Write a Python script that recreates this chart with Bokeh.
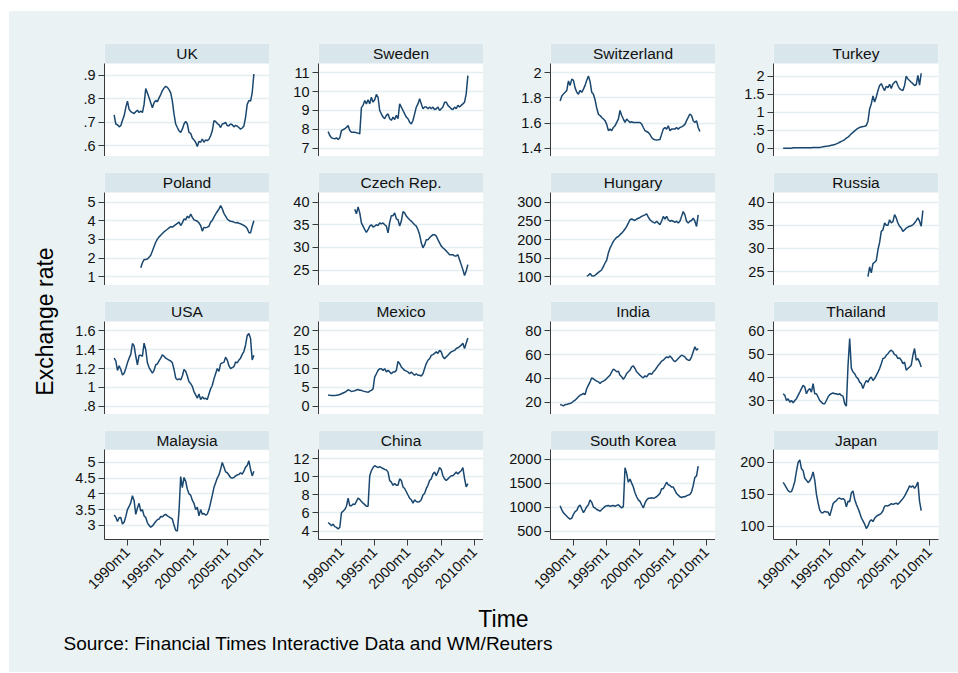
import math
from bokeh.plotting import figure
from bokeh.models import Range1d, FixedTicker, Label, Spacer
from bokeh.layouts import row, column
from bokeh.embed import file_html
from bokeh.resources import INLINE
from bokeh.core.properties import value

# ---------------- data (quarterly readings, start year per series) ----------------
countries = ["UK", "Sweden", "Switzerland", "Turkey",
             "Poland", "Czech Rep.", "Hungary", "Russia",
             "USA", "Mexico", "India", "Thailand",
             "Malaysia", "China", "South Korea", "Japan"]

start_year = [1988.0, 1988.0, 1988.0, 1988.0,
              1992.0, 1992.0, 1992.0, 2000.75,
              1988.0, 1988.0, 1988.0, 1988.0,
              1988.0, 1988.0, 1988.0, 1988.0]
step = 0.25

uk = [.731, .692, .689, .680, .685, .708, .727, .762, .790, .755,
      .745, .741, .737, .745, .751, .741, .748, .741, .776, .844,
      .825, .804, .783, .762, .783, .793, .787, .804, .818, .835,
      .846, .853, .849, .839, .825, .790, .734, .692, .677, .663,
      .656, .670, .692, .703, .692, .656, .652, .632, .624, .614,
      .596, .618, .614, .628, .614, .624, .621, .627, .642, .663,
      .706, .703, .694, .689, .677, .692, .694, .699, .685, .685,
      .692, .689, .680, .686, .683, .677, .670, .675, .683, .720,
      .776, .793, .790, .825, .906]
sweden = [7.88, 7.67, 7.55, 7.52, 7.50, 7.55, 7.46, 7.55, 7.94, 7.98,
          8.03, 8.10, 8.20, 7.94, 7.85, 7.85, 7.85, 7.82, 7.80, 7.76,
          9.15, 9.27, 9.53, 9.35, 9.57, 9.35, 9.70, 9.44, 9.57, 9.85,
          9.70, 9.00, 8.82, 8.65, 8.56, 8.74, 8.82, 8.56, 8.48, 8.65,
          8.52, 8.74, 8.56, 9.35, 9.18, 9.00, 8.82, 8.65, 8.56, 8.38,
          8.29, 8.47, 8.82, 9.18, 9.35, 9.62, 9.35, 9.09, 9.18, 9.18,
          9.09, 9.18, 9.09, 9.18, 9.04, 9.09, 9.18, 9.00, 9.09, 9.18,
          9.44, 9.44, 9.27, 9.18, 9.09, 9.04, 9.18, 9.09, 9.27, 9.18,
          9.27, 9.35, 9.44, 9.88, 10.85]
switzerland = [1.775, 1.815, 1.832, 1.845, 1.86, 1.935, 1.90, 1.95, 1.94, 1.88,
               1.845, 1.83, 1.86, 1.845, 1.87, 1.90, 1.94, 1.975, 1.93, 1.845,
               1.83, 1.785, 1.72, 1.67, 1.66, 1.645, 1.632, 1.619, 1.59, 1.54,
               1.552, 1.54, 1.565, 1.578, 1.605, 1.632, 1.70, 1.66, 1.632, 1.605,
               1.632, 1.619, 1.605, 1.61, 1.605, 1.605, 1.605, 1.605, 1.605, 1.592,
               1.565, 1.539, 1.533, 1.525, 1.51, 1.485, 1.472, 1.467, 1.465, 1.467,
               1.47, 1.51, 1.552, 1.565, 1.552, 1.578, 1.539, 1.552, 1.552, 1.552,
               1.565, 1.552, 1.565, 1.57, 1.578, 1.59, 1.619, 1.645, 1.672, 1.66,
               1.619, 1.605, 1.619, 1.565, 1.533]
turkey = [0.0, 0.0, 0.0, 0.0, 0.0, 0.0, 0.01, 0.01, 0.01, 0.01,
          0.01, 0.01, 0.01, 0.01, 0.01, 0.01, 0.01, 0.01, 0.02, 0.02,
          0.02, 0.02, 0.02, 0.03, 0.04, 0.05, 0.055, 0.06, 0.07, 0.08,
          0.09, 0.10, 0.12, 0.14, 0.165, 0.19, 0.21, 0.24, 0.28, 0.31,
          0.35, 0.40, 0.44, 0.48, 0.52, 0.55, 0.58, 0.59, 0.60, 0.61,
          0.63, 0.75, 1.09, 1.23, 1.45, 1.28, 1.42, 1.60, 1.74, 1.79,
          1.69, 1.60, 1.72, 1.68, 1.77, 1.66, 1.78, 1.83, 1.86, 1.74,
          1.65, 1.62, 1.60, 1.74, 2.00, 1.92, 1.88, 1.83, 1.79, 1.74,
          1.76, 2.02, 1.75, 2.08]
poland = [1.48, 1.75, 1.92, 1.93, 1.95, 2.05, 2.15, 2.38, 2.62, 2.85,
          3.02, 3.14, 3.23, 3.32, 3.41, 3.48, 3.55, 3.62, 3.69, 3.66,
          3.73, 3.80, 3.86, 3.93, 3.75, 3.89, 4.10, 4.05, 4.25, 4.15,
          4.36, 4.20, 4.05, 4.02, 3.98, 3.89, 3.75, 3.45, 3.65, 3.62,
          3.66, 3.71, 3.93, 4.02, 4.20, 4.36, 4.50, 4.62, 4.82, 4.65,
          4.40, 4.25, 4.10, 4.02, 3.98, 3.96, 3.93, 3.89, 3.91, 3.87,
          3.84, 3.80, 3.75, 3.69, 3.59, 3.37, 3.35, 3.71, 4.00]
czech = [38.4, 37.4, 38.9, 37.6, 35.4, 34.7, 33.9, 33.3, 33.9, 34.7,
         35.0, 34.5, 34.7, 35.0, 34.8, 35.4, 35.2, 35.4, 35.0, 34.7,
         33.2, 35.5, 37.0, 37.0, 37.6, 36.3, 36.1, 34.7, 35.8, 37.9,
         37.6, 36.9, 36.5, 36.1, 35.8, 35.4, 35.0, 34.7, 33.9, 32.8,
         31.0, 29.9, 30.6, 31.7, 31.7, 32.1, 32.5, 32.8, 32.8, 32.5,
         31.7, 31.0, 30.3, 29.9, 29.6, 29.2, 28.8, 28.4, 28.4, 28.4,
         28.1, 28.1, 28.4, 27.3, 26.2, 25.1, 23.8, 24.8, 26.2]
hungary = [102, 104, 109, 103, 102, 104, 108, 112, 115, 119,
           127, 137, 145, 164, 177, 186, 195, 201, 206, 208,
           213, 217, 222, 228, 235, 244, 253, 255, 253, 251,
           255, 257, 259, 262, 264, 266, 269, 260, 253, 249,
           246, 244, 249, 244, 240, 249, 262, 255, 262, 253,
           249, 251, 249, 246, 249, 244, 249, 262, 275, 266,
           249, 244, 249, 251, 257, 249, 235, 266]
russia = [23.9, 26.0, 24.7, 26.7, 27.0, 27.4, 29.7, 31.3, 33.7, 34.0,
          35.5, 35.0, 35.0, 36.2, 35.5, 35.8, 37.3, 36.6, 35.5, 34.8,
          34.4, 33.7, 34.0, 34.4, 34.6, 34.8, 34.9, 35.1, 35.5, 36.0,
          36.6, 35.9, 34.8, 38.2]
usa = [1.31, 1.28, 1.18, 1.23, 1.19, 1.13, 1.15, 1.20, 1.26, 1.31,
       1.35, 1.465, 1.44, 1.33, 1.24, 1.34, 1.34, 1.33, 1.47, 1.40,
       1.26, 1.21, 1.18, 1.15, 1.18, 1.24, 1.25, 1.28, 1.31, 1.345,
       1.33, 1.31, 1.30, 1.29, 1.28, 1.26, 1.19, 1.10, 1.08, 1.09,
       1.08, 1.12, 1.19, 1.17, 1.12, 1.06, 1.04, 1.01, 0.955, 0.92,
       0.885, 0.93, 0.87, 0.90, 0.88, 0.885, 0.87, 0.93, 0.985, 1.02,
       1.09, 1.145, 1.20, 1.17, 1.25, 1.26, 1.265, 1.32, 1.29, 1.23,
       1.20, 1.21, 1.22, 1.27, 1.26, 1.29, 1.31, 1.35, 1.38, 1.45,
       1.55, 1.572, 1.52, 1.29, 1.34]
mexico = [3.0, 2.9, 2.84, 2.84, 2.84, 2.9, 3.0, 3.1, 3.3, 3.5,
          3.7, 4.0, 4.35, 4.2, 3.9, 4.0, 4.1, 4.3, 4.44, 4.2,
          4.2, 4.0, 3.9, 3.8, 3.7, 4.0, 4.2, 4.6, 7.8, 8.6,
          9.5, 9.96, 9.96, 9.5, 9.96, 9.1, 9.5, 9.1, 8.6, 9.1,
          9.1, 9.5, 11.9, 11.3, 10.4, 9.96, 9.5, 9.3, 9.1, 8.6,
          9.1, 8.6, 8.2, 8.6, 8.2, 8.2, 8.0, 8.6, 10.0, 11.3,
          12.2, 12.6, 13.5, 13.7, 14.0, 14.4, 14.0, 14.8, 14.4, 13.1,
          12.6, 13.1, 13.5, 14.0, 14.4, 14.6, 14.8, 15.3, 15.5, 15.8,
          16.2, 16.7, 15.3, 16.7, 18.1]
india = [18.0, 17.5, 16.9, 18.0, 18.0, 18.6, 18.8, 19.7, 20.8, 21.7,
         23.1, 24.5, 25.9, 26.4, 27.3, 26.4, 31.5, 34.3, 37.1, 40.5,
         39.5, 38.5, 37.7, 37.1, 35.7, 37.1, 37.7, 38.5, 39.9, 41.3,
         42.7, 45.5, 47.8, 46.9, 45.5, 46.1, 42.7, 41.3, 39.3, 41.3,
         44.1, 45.5, 46.9, 49.7, 50.6, 48.3, 45.5, 44.1, 42.7, 41.3,
         40.5, 42.2, 41.3, 43.3, 44.1, 43.3, 45.5, 46.9, 48.9, 51.1,
         52.5, 54.5, 55.3, 56.7, 58.1, 57.3, 58.9, 57.3, 55.3, 53.9,
         55.3, 56.7, 58.1, 59.5, 58.9, 58.1, 56.1, 55.3, 55.3, 58.1,
         62.3, 66.5, 63.7, 65.1]
thailand = [33.0, 32.3, 30.1, 30.8, 29.4, 30.1, 29.1, 30.1, 30.9, 32.3,
            33.7, 35.2, 36.6, 35.9, 33.0, 34.5, 35.2, 33.7, 37.3, 33.0,
            33.0, 31.6, 30.1, 29.4, 28.7, 28.7, 30.1, 31.6, 32.6, 33.0,
            33.4, 33.0, 33.0, 32.6, 33.0, 32.3, 32.0, 28.7, 27.7, 45.0,
            56.7, 44.0, 42.3, 41.6, 40.2, 39.5, 38.0, 37.3, 35.2, 37.3,
            38.7, 38.0, 39.5, 40.2, 38.7, 39.5, 40.9, 42.3, 43.8, 45.9,
            48.1, 48.4, 49.5, 50.2, 51.2, 51.7, 51.0, 49.8, 49.5, 48.1,
            48.4, 47.4, 45.9, 46.6, 43.1, 43.8, 44.5, 45.2, 49.5, 52.4,
            47.4, 48.1, 46.6, 44.5]
malaysia = [3.33, 3.26, 3.12, 3.24, 3.25, 3.04, 3.10, 3.28, 3.50, 3.60,
            3.72, 3.94, 3.78, 3.35, 3.55, 3.70, 3.45, 3.50, 3.30, 3.25,
            3.08, 3.00, 2.94, 2.98, 3.05, 3.12, 3.18, 3.20, 3.28, 3.27,
            3.32, 3.35, 3.30, 3.27, 3.24, 3.20, 3.00, 2.84, 2.82, 3.45,
            4.55, 4.20, 4.52, 4.40, 4.15, 4.00, 3.96, 3.80, 3.70, 3.50,
            3.58, 3.30, 3.50, 3.35, 3.38, 3.32, 3.36, 3.50, 3.72, 3.95,
            4.20, 4.35, 4.50, 4.60, 4.78, 5.00, 4.85, 4.70, 4.67, 4.60,
            4.52, 4.50, 4.52, 4.57, 4.60, 4.62, 4.67, 4.63, 4.72, 4.85,
            4.90, 5.05, 4.78, 4.57, 4.72]
china = [4.96, 4.78, 4.60, 4.78, 4.50, 4.42, 4.25, 4.40, 6.03, 6.20,
         6.38, 6.74, 7.63, 6.80, 6.80, 7.00, 6.92, 7.27, 7.63, 7.50,
         7.27, 7.09, 6.92, 6.74, 6.74, 10.1, 10.65, 11.0, 11.2, 11.1,
         11.0, 11.1, 11.0, 10.9, 10.8, 10.75, 10.5, 9.58, 9.4, 9.05,
         9.23, 9.05, 9.05, 9.76, 9.58, 8.87, 8.70, 8.34, 7.98, 7.63,
         7.45, 7.09, 7.45, 7.27, 7.20, 7.27, 7.45, 7.98, 8.16, 8.70,
         9.05, 9.58, 9.76, 10.3, 10.5, 10.1, 10.5, 11.0, 10.8, 10.1,
         9.76, 9.58, 9.76, 9.94, 10.1, 10.1, 10.3, 10.5, 10.3, 10.5,
         10.65, 11.0, 9.8, 8.87, 9.23]
south_korea = [1030, 940, 880, 845, 810, 775, 748, 770, 848, 905,
               930, 1010, 1045, 960, 885, 945, 1010, 1049, 1150, 1100,
               1000, 982, 949, 935, 915, 949, 982, 1016, 1030, 1036,
               1016, 1030, 1036, 1016, 1036, 1049, 1016, 982, 1016, 1819,
               1700, 1518, 1585, 1500, 1420, 1300, 1216, 1150, 1120, 1049,
               982, 1083, 1150, 1183, 1183, 1196, 1183, 1196, 1216, 1250,
               1283, 1384, 1384, 1451, 1518, 1465, 1451, 1417, 1417, 1350,
               1283, 1250, 1216, 1196, 1216, 1216, 1236, 1250, 1263, 1317,
               1451, 1618, 1652, 1853]
japan = [168.5, 164.5, 160, 155.5, 153.5, 154, 161, 170, 186, 200,
         204, 190, 187, 175, 172, 168, 171, 176, 185, 172,
         150, 136.5, 125, 121, 121, 123, 122, 122, 116, 125,
         135, 138, 140, 143, 144, 142, 143, 141, 130, 139,
         138, 152, 155, 142, 134, 128, 121, 113, 108, 103,
         96, 100, 107, 110, 107, 112, 115, 117, 118, 120,
         124, 131, 132, 131.5, 133, 135, 134, 135, 136, 134,
         137, 140, 143, 147, 152, 157, 163, 161, 163, 159,
         163, 169, 139, 124]

series = [uk, sweden, switzerland, turkey,
          poland, czech, hungary, russia,
          usa, mexico, india, thailand,
          malaysia, china, south_korea, japan]

y_ticks = [[.6, .7, .8, .9], [7, 8, 9, 10, 11], [1.4, 1.6, 1.8, 2], [0, .5, 1, 1.5, 2],
           [1, 2, 3, 4, 5], [25, 30, 35, 40], [100, 150, 200, 250, 300], [25, 30, 35, 40],
           [.8, 1, 1.2, 1.4, 1.6], [0, 5, 10, 15, 20], [20, 40, 60, 80], [30, 40, 50, 60],
           [3, 3.5, 4, 4.5, 5], [4, 6, 8, 10, 12], [500, 1000, 1500, 2000], [100, 150, 200]]
y_tick_labels = [[".6", ".7", ".8", ".9"], ["7", "8", "9", "10", "11"], ["1.4", "1.6", "1.8", "2"],
                 ["0", ".5", "1", "1.5", "2"],
                 ["1", "2", "3", "4", "5"], ["25", "30", "35", "40"], ["100", "150", "200", "250", "300"],
                 ["25", "30", "35", "40"],
                 [".8", "1", "1.2", "1.4", "1.6"], ["0", "5", "10", "15", "20"], ["20", "40", "60", "80"],
                 ["30", "40", "50", "60"],
                 ["3", "3.5", "4", "4.5", "5"], ["4", "6", "8", "10", "12"], ["500", "1000", "1500", "2000"],
                 ["100", "150", "200"]]
# plot-area y limits (Stata-style padded ranges)
y_low = [0.553, 6.56, 1.334, -0.23, 0.53, 21.6, 76.7, 21.97,
         0.712, -2.2, 9.65, 24.1, 2.55, 3.08, 325, 78.8]
y_high = [0.951, 11.49, 2.074, 2.35, 5.52, 42.1, 326, 42.1,
          1.699, 22.47, 87.8, 64.0, 5.40, 12.96, 2195, 219.7]

x_ticks = [1990, 1995, 2000, 2005, 2010]
x_tick_labels = ["1990m1", "1995m1", "2000m1", "2005m1", "2010m1"]
x_low, x_high = 1986.55, 2011.35

# ---------------- styles ----------------
BG = "#EAF2F3"
STRIP = "#D9E6EB"
LINE = "#1A476F"
GRID = "#E4EDF0"
AXIS = "#3a3a3a"
FONT = "Liberation Sans"
BGSTYLE = {"background-color": BG}

FRAME_W, PLOT_H, STRIP_H = 165, 93, 20
left_border = [40, 49, 67, 58]
right_border = [0, 0, 0, 20]


def make_panel(i):
    r, c = divmod(i, 4)
    ylo, yhi = y_low[i], y_high[i]
    ytop = yhi + (yhi - ylo) * STRIP_H / PLOT_H
    top_b = 32 if r == 0 else 16
    bot_b = 57 if r == 3 else 0
    p = figure(width=left_border[c] + FRAME_W + right_border[c],
               height=top_b + STRIP_H + PLOT_H + bot_b,
               x_range=Range1d(x_low, x_high), y_range=Range1d(ylo, ytop),
               output_backend="svg", toolbar_location=None,
               x_axis_location="below" if r == 3 else None,
               min_border_left=left_border[c], min_border_right=right_border[c],
               min_border_top=top_b, min_border_bottom=bot_b,
               styles=BGSTYLE)
    p.outline_line_color = None
    p.background_fill_color = "white"
    p.border_fill_color = BG

    for g in p.grid:
        if g.dimension == 0:
            g.grid_line_color = None
        else:
            g.ticker = FixedTicker(ticks=y_ticks[i])
            g.grid_line_color = GRID
            g.grid_line_width = 1.5

    ya = p.yaxis[0]
    ya.ticker = FixedTicker(ticks=y_ticks[i])
    ya.major_label_overrides = {t: s for t, s in zip(y_ticks[i], y_tick_labels[i])}
    ya.bounds = (ylo, yhi)
    ya.minor_tick_line_color = None
    ya.major_tick_in = 0
    ya.major_tick_out = 6
    ya.major_label_standoff = 3
    ya.axis_line_color = AXIS
    ya.major_tick_line_color = AXIS
    ya.major_label_text_font = FONT
    ya.major_label_text_font_size = "14.5px"
    ya.major_label_text_color = "#111111"

    if r == 3:
        xa = p.xaxis[0]
        xa.ticker = FixedTicker(ticks=x_ticks)
        xa.major_label_overrides = {t: s for t, s in zip(x_ticks, x_tick_labels)}
        xa.minor_tick_line_color = None
        xa.major_tick_in = 0
        xa.major_tick_out = 6
        xa.major_label_standoff = 4
        xa.axis_line_color = AXIS
        xa.major_tick_line_color = AXIS
        xa.major_label_orientation = math.pi / 4
        xa.major_label_text_font = FONT
        xa.major_label_text_font_size = "14.5px"
        xa.major_label_text_color = "#111111"

    # strip with panel title
    p.quad(left=[x_low], right=[x_high], bottom=[yhi], top=[ytop],
           fill_color=STRIP, line_color=None)
    p.text(x=[(x_low + x_high) / 2], y=[(yhi + ytop) / 2], text=[countries[i]],
           text_align="center", text_baseline="middle",
           text_font=value(FONT), text_font_size="15.5px", text_color="#111111")

    vals = series[i]
    t = [start_year[i] + step * k for k in range(len(vals))]
    p.line(t, vals, line_color=LINE, line_width=1.5)
    return p


panels = [make_panel(i) for i in range(16)]
grid = column(*[row(*panels[r * 4:(r + 1) * 4], styles=BGSTYLE) for r in range(4)],
              styles=BGSTYLE)

GRID_H = 145 + 129 + 129 + 186
ylab = figure(width=55, height=GRID_H, x_range=Range1d(0, 55), y_range=Range1d(0, GRID_H),
              output_backend="svg", toolbar_location=None,
              x_axis_location=None, y_axis_location=None, min_border=0, styles=BGSTYLE)
ylab.outline_line_color = None
ylab.background_fill_color = BG
ylab.border_fill_color = BG
for g in ylab.grid:
    g.grid_line_color = None
ylab.add_layout(Label(x=35, y=GRID_H - 310, text="Exchange rate", angle=math.pi / 2,
                      text_align="center", text_baseline="middle",
                      text_font=FONT, text_font_size="23px", text_color="#000000"))

TOTAL_W = 949
BOT_H = 72
bottom = figure(width=TOTAL_W, height=BOT_H, x_range=Range1d(0, TOTAL_W), y_range=Range1d(0, BOT_H),
                output_backend="svg", toolbar_location=None,
                x_axis_location=None, y_axis_location=None, min_border=0, styles=BGSTYLE)
bottom.outline_line_color = None
bottom.background_fill_color = BG
bottom.border_fill_color = BG
for g in bottom.grid:
    g.grid_line_color = None
bottom.add_layout(Label(x=494, y=BOT_H - 18, text="Time", text_align="center", text_baseline="middle",
                        text_font=FONT, text_font_size="23px", text_color="#000000"))
bottom.add_layout(Label(x=54, y=BOT_H - 43, text="Source: Financial Times Interactive Data and WM/Reuters",
                        text_align="left", text_baseline="middle",
                        text_font=FONT, text_font_size="19px", text_color="#000000"))

inner = column(row(ylab, grid, styles=BGSTYLE), bottom, styles=BGSTYLE)
layout = column(Spacer(width=958, height=11),
                row(Spacer(width=9, height=GRID_H + BOT_H), inner))

open("out.html", "w").write(file_html(layout, INLINE))
